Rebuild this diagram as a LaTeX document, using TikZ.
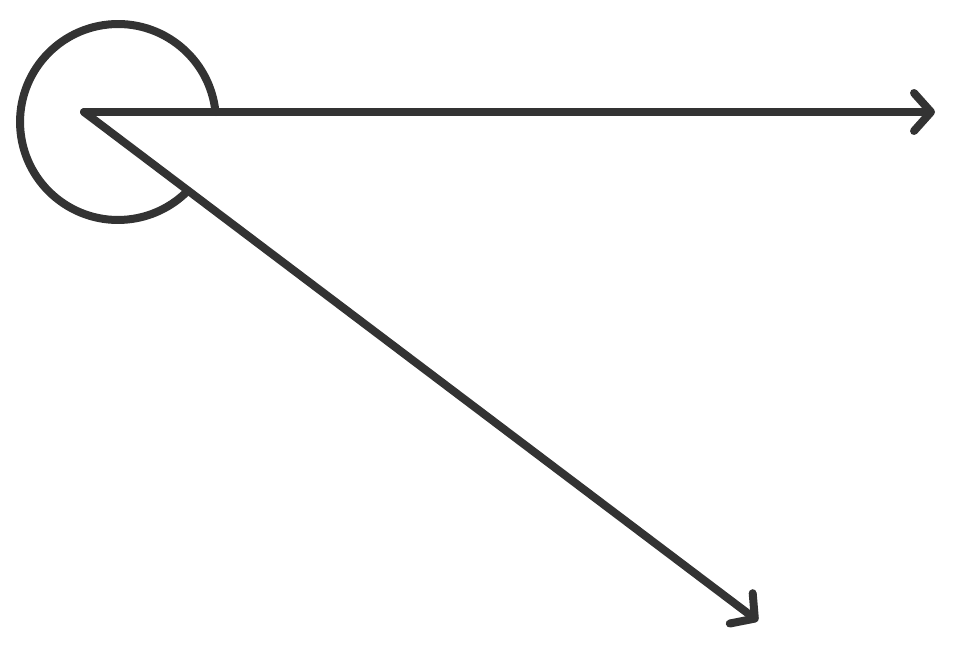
\documentclass[tikz,border=0pt]{standalone}
\usetikzlibrary{arrows.meta, calc}
\definecolor{inkgray}{HTML}{333333}
\tikzset{
  ray/.style={
    draw=inkgray,
    line width=0.16cm,
    line cap=round,
    -{Straight Barb[length=0.34cm, width=0.76cm, round]}
  },
  reflex/.style={
    draw=inkgray,
    line width=0.16cm,
    line cap=round
  }
}
\begin{document}
\begin{tikzpicture}[x=0.02cm, y=0.02cm]
        \useasboundingbox (0,0) rectangle (953,653);
        \coordinate (vertex) at (84,541);
        \coordinate (endA) at (935,541);
        \coordinate (endB) at (758,32);
        \coordinate (centre) at (118,531);

        \draw[ray] (vertex) -- (endA);
        \draw[ray] (vertex) -- (endB);
        \draw[reflex] ($(centre)+(5.8:98)$) arc[start angle=5.8, end angle=315.4, radius=1.96cm];
      \end{tikzpicture}
\end{document}
